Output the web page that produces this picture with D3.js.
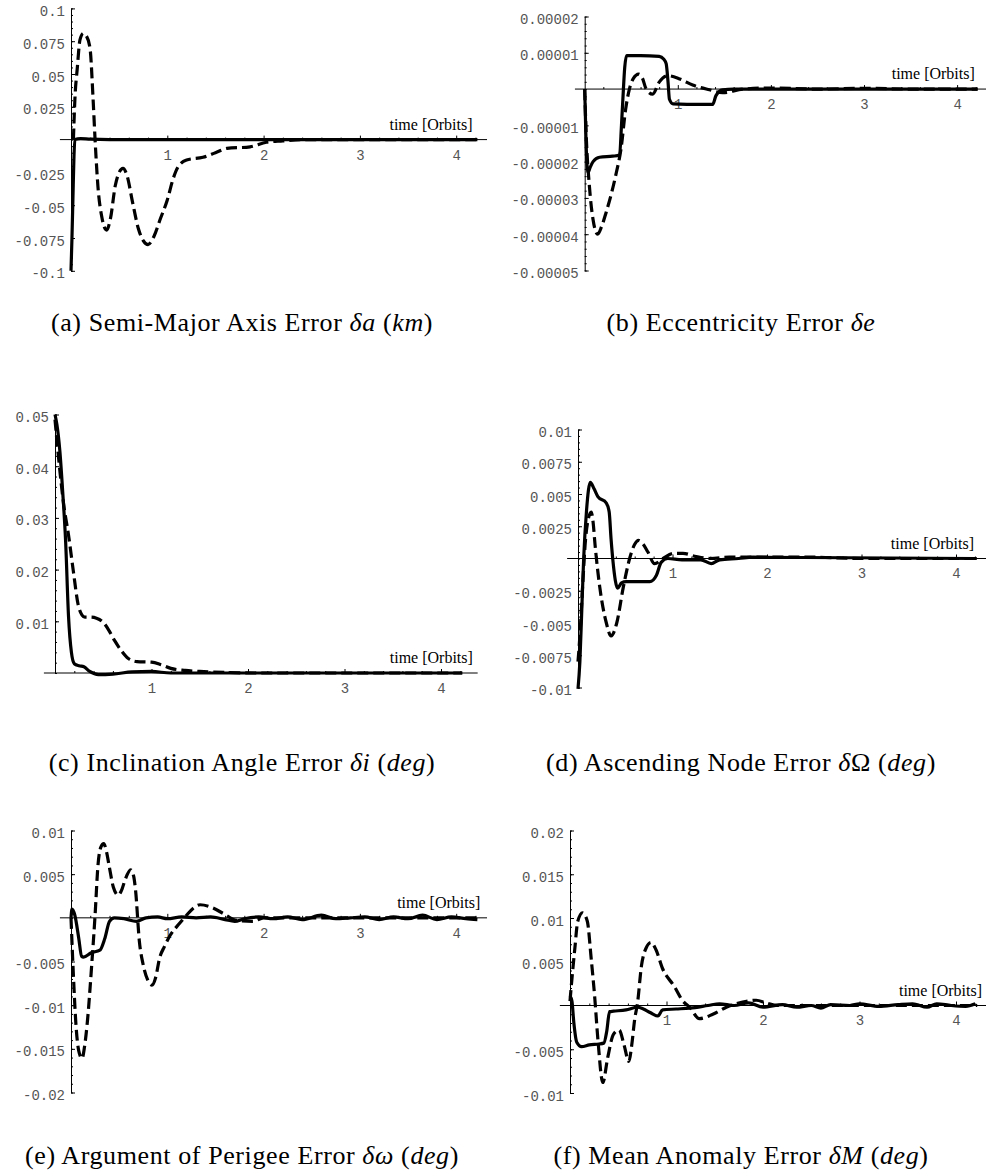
<!DOCTYPE html>
<html>
<head>
<meta charset="utf-8">
<script src="https://cdn.jsdelivr.net/npm/d3@7"></script>
<style>
  body { margin: 0; background: #fff; }
  .tick text { font-family: "Liberation Mono", "DejaVu Sans Mono", monospace; font-size: 14px; fill: #555; }
</style>
</head>
<body>
<svg id="chart" width="986" height="1176"></svg>
<script>

// x tick labels (orbits)
var xTickValues = [1, 2, 3, 4];

// y tick values per panel (0 is not labelled)
var aTicks = [0.1, 0.075, 0.05, 0.025, -0.025, -0.05, -0.075, -0.1];
var bTicks = [0.00002, 0.00001, -0.00001, -0.00002, -0.00003, -0.00004, -0.00005];
var cTicks = [0.05, 0.04, 0.03, 0.02, 0.01];
var dTicks = [0.01, 0.0075, 0.005, 0.0025, -0.0025, -0.005, -0.0075, -0.01];
var eTicks = [0.01, 0.005, -0.005, -0.01, -0.015, -0.02];
var fTicks = [0.02, 0.015, 0.01, 0.005, -0.005, -0.01];

var aLabels = ['0.1', '0.075', '0.05', '0.025', '-0.025', '-0.05', '-0.075', '-0.1'];
var bLabels = ['0.00002', '0.00001', '-0.00001', '-0.00002', '-0.00003', '-0.00004', '-0.00005'];
var cLabels = ['0.05', '0.04', '0.03', '0.02', '0.01'];
var dLabels = ['0.01', '0.0075', '0.005', '0.0025', '-0.0025', '-0.005', '-0.0075', '-0.01'];
var eLabels = ['0.01', '0.005', '-0.005', '-0.01', '-0.015', '-0.02'];
var fLabels = ['0.02', '0.015', '0.01', '0.005', '-0.005', '-0.01'];

// series: [time in orbits, error]
var aSolid = [[0,-0.1],[0.01,-0.075],[0.02,-0.045],[0.03,-0.015],[0.04,0],[0.1,0.0008],[0.2,0.0003],[0.4,0],[4.22,0]];
var aDashed = [[0.025,0],[0.04,0.03],[0.066,0.055],[0.093,0.076],[0.128,0.081],[0.16,0.079],[0.197,0.07],[0.23,0.03],[0.25,0],
  [0.28,-0.036],[0.32,-0.059],[0.37,-0.069],[0.41,-0.06],[0.46,-0.035],[0.5,-0.025],[0.54,-0.022],[0.58,-0.027],
  [0.64,-0.048],[0.7,-0.068],[0.75,-0.077],[0.8,-0.08],[0.86,-0.074],[0.93,-0.06],[1.0,-0.046],[1.06,-0.03],
  [1.11,-0.021],[1.2,-0.0155],[1.37,-0.0135],[1.5,-0.01],[1.62,-0.0067],[1.86,-0.0055],[2.03,-0.002],[2.2,-0.001],[2.4,0],[4.22,0]];

var bSolid = [[0,0],[0.015,-1.5e-5],[0.035,-2.3e-5],[0.06,-2.15e-5],[0.09,-2.0e-5],[0.16,-1.88e-5],[0.3,-1.85e-5],[0.375,-1.82e-5],
  [0.395,-1.0e-5],[0.41,-0.28e-5],[0.43,0.6e-5],[0.45,0.92e-5],[0.6,0.92e-5],[0.8,0.9e-5],[0.85,0.82e-5],[0.875,0.7e-5],
  [0.895,0.2e-5],[0.91,-0.28e-5],[0.95,-0.41e-5],[1.1,-0.42e-5],[1.375,-0.42e-5],[1.41,-0.18e-5],[1.48,-0.02e-5],[1.6,0],[4.22,0]];
var bDashed = [[0,0],[0.015,-1.2e-5],[0.05,-2.66e-5],[0.09,-3.6e-5],[0.14,-4.0e-5],[0.18,-3.8e-5],[0.23,-3.4e-5],[0.34,-2.3e-5],
  [0.39,-1.65e-5],[0.44,-0.55e-5],[0.48,0],[0.52,0.28e-5],[0.58,0.41e-5],[0.62,0.3e-5],[0.66,0],[0.73,-0.14e-5],[0.8,0.19e-5],
  [0.89,0.37e-5],[1.02,0.28e-5],[1.16,0.11e-5],[1.34,-0.02e-5],[1.48,-0.1e-5],[1.7,0],[2.0,0.03e-5],[2.5,0],[3,0.02e-5],[3.5,0],[4.22,0]];

var cSolid = [[0,0.05],[0.02,0.048],[0.05,0.043],[0.08,0.035],[0.11,0.0255],[0.14,0.011],[0.17,0.004],[0.2,0.0018],[0.25,0.0014],
  [0.3,0.0012],[0.36,0.0003],[0.45,-0.0003],[0.6,-0.0002],[0.8,0.0002],[1.0,0.0003],[1.2,0],[4.22,0]];
var cDashed = [[0,0.049],[0.035,0.042],[0.09,0.0326],[0.14,0.0267],[0.19,0.0197],[0.24,0.0132],[0.28,0.0112],[0.31,0.0108],
  [0.37,0.0108],[0.43,0.0106],[0.5,0.0098],[0.56,0.0082],[0.62,0.0062],[0.68,0.0045],[0.76,0.0028],[0.85,0.0022],[1.0,0.0021],
  [1.1,0.0016],[1.2,0.0009],[1.35,0.0005],[1.5,0.0003],[1.8,0.0001],[2.1,0],[4.22,0]];

var dSolid = [[0,-0.0101],[0.02,-0.008],[0.04,-0.004],[0.06,0],[0.09,0.0037],[0.13,0.0059],[0.17,0.0054],[0.21,0.0048],[0.3,0.0043],
  [0.33,0.0036],[0.35,0.0015],[0.37,-0.0002],[0.42,-0.0023],[0.46,-0.0019],[0.51,-0.0018],[0.76,-0.0018],[0.83,-0.0013],
  [0.88,-0.0003],[0.95,0],[1.1,-0.0001],[1.3,-0.0001],[1.41,-0.0004],[1.5,-0.0001],[1.7,0],[1.85,0.0001],[4.22,0]];
var dDashed = [[0,-0.008],[0.02,-0.006],[0.05,-0.002],[0.08,0.0015],[0.11,0.0031],[0.14,0.0036],[0.16,0.0028],[0.18,0.0011],
  [0.23,-0.0022],[0.3,-0.005],[0.35,-0.006],[0.41,-0.005],[0.48,-0.0022],[0.55,0.0001],[0.6,0.0011],[0.64,0.0014],[0.69,0.0011],
  [0.74,0.0005],[0.81,-0.0004],[0.9,0],[1.01,0.0004],[1.11,0.0004],[1.25,0.00015],[1.4,0],[1.6,0.0001],[2.0,0.0001],[2.5,0.0001],[3,0],[4.22,0]];

var eSolid = [[0,0],[0.01,0.001],[0.04,0.0003],[0.08,-0.0023],[0.11,-0.0044],[0.13,-0.0045],[0.21,-0.004],[0.3,-0.0037],
  [0.35,-0.0024],[0.4,-0.0004],[0.45,0],[0.55,-0.0001],[0.68,-0.0004],[0.78,0],[0.9,0.0001],[1.0,-0.0001],[1.15,0.0001],
  [1.3,0],[1.45,0.0001],[1.6,-0.0002],[1.7,-0.0004],[1.8,-0.0001],[1.95,0.0001],[2.1,-0.0001],[2.25,0.0001],[2.4,-0.0002],
  [2.6,0.0003],[2.75,-0.0001],[2.9,0],[3.05,0.0001],[3.2,-0.0002],[3.35,0.0001],[3.5,-0.0001],[3.65,0.0003],[3.8,-0.0002],
  [3.95,0.0001],[4.1,-0.0001],[4.22,-0.0002]];
var eDashed = [[0,0],[0.025,-0.0066],[0.05,-0.012],[0.08,-0.0152],[0.115,-0.0161],[0.14,-0.0148],[0.17,-0.0119],[0.215,-0.0054],
  [0.25,0.0003],[0.28,0.006],[0.31,0.0081],[0.34,0.0085],[0.37,0.0075],[0.4,0.0057],[0.44,0.0035],[0.49,0.0026],[0.53,0.0033],
  [0.56,0.0043],[0.62,0.0055],[0.65,0.0048],[0.67,0.0032],[0.71,-0.0027],[0.75,-0.0054],[0.8,-0.0072],[0.84,-0.0077],
  [0.88,-0.0068],[0.92,-0.0046],[0.97,-0.0033],[1.03,-0.002],[1.13,-0.0006],[1.2,0.0003],[1.27,0.0011],[1.34,0.0015],
  [1.48,0.0011],[1.58,0.0005],[1.72,-0.0003],[1.89,-0.0004],[2.0,0],[2.2,0],[4.22,0]];

var fSolid = [[0,0.0011],[0.02,0.0005],[0.04,-0.002],[0.07,-0.0042],[0.12,-0.0047],[0.2,-0.0045],[0.3,-0.0044],[0.35,-0.0043],
  [0.38,-0.003],[0.41,-0.0007],[0.45,-0.00065],[0.58,-0.0005],[0.7,-0.0002],[0.76,-0.0004],[0.83,-0.0008],[0.91,-0.0012],
  [0.96,-0.0005],[1.1,-0.0004],[1.24,-0.0003],[1.43,0],[1.55,0.0002],[1.7,0],[1.85,0.0003],[2.0,-0.0002],[2.2,0.0001],
  [2.35,-0.0002],[2.5,0],[2.6,-0.0003],[2.7,0.0001],[2.9,0],[3.0,0.0002],[3.2,-0.0001],[3.4,0.0001],[3.55,0.0002],
  [3.7,-0.0002],[3.8,0.0002],[3.95,0],[4.1,-0.0001],[4.2,0.0002]];
var fDashed = [[0,0.0005],[0.01,0.0018],[0.05,0.0065],[0.08,0.0096],[0.13,0.0106],[0.18,0.0096],[0.22,0.0053],[0.255,0.0011],
  [0.29,-0.004],[0.34,-0.0088],[0.39,-0.006],[0.45,-0.0033],[0.51,-0.0028],[0.56,-0.0045],[0.61,-0.0064],[0.64,-0.0045],
  [0.67,-0.0016],[0.7,0.0003],[0.74,0.0045],[0.79,0.0066],[0.84,0.0072],[0.89,0.0064],[0.96,0.0042],[1.08,0.0022],
  [1.17,0.0005],[1.24,-0.0002],[1.34,-0.0015],[1.48,-0.001],[1.62,-0.0002],[1.79,0.0004],[1.93,0.0006],[2.03,0.0003],[2.15,0],[4.22,0]];

// captions: pieces of [text, italic?]
var aCaption = [['(a) Semi-Major Axis Error ', false], ['δa', true], [' (', false], ['km', true], [')', false]];
var bCaption = [['(b) Eccentricity Error ', false], ['δe', true]];
var cCaption = [['(c) Inclination Angle Error ', false], ['δi', true], [' (', false], ['deg', true], [')', false]];
var dCaption = [['(d) Ascending Node Error ', false], ['δ', true], ['Ω (', false], ['deg', true], [')', false]];
var eCaption = [['(e) Argument of Perigee Error ', false], ['δω', true], [' (', false], ['deg', true], [')', false]];
var fCaption = [['(f) Mean Anomaly Error ', false], ['δM', true], [' (', false], ['deg', true], [')', false]];

// layout of the six panels (pixels)
var panels = [
  { solid: aSolid, dashed: aDashed, ticks: aTicks, labels: aLabels, caption: aCaption,
    xRange: [71, 456.2], yDomain: [-0.1, 0.1], yRange: [270.8, 8.4], axisX: [-0.115, 4.32], labelT: 4.17, capX: 242, capY: 331 },
  { solid: bSolid, dashed: bDashed, ticks: bTicks, labels: bLabels, caption: bCaption,
    xRange: [584.7, 957.1], yDomain: [-0.00005, 0.00002], yRange: [270.5, 16.5], axisX: [-0.105, 4.4], labelT: 4.19, capX: 741, capY: 331 },
  { solid: cSolid, dashed: cDashed, ticks: cTicks, labels: cLabels, caption: cCaption,
    xRange: [55, 441], yDomain: [0, 0.05], yRange: [673, 414.5], axisX: [-0.115, 4.38], labelT: 4.33, capX: 242, capY: 771 },
  { solid: dSolid, dashed: dDashed, ticks: dTicks, labels: dLabels, caption: dCaption,
    xRange: [578, 956], yDomain: [-0.01, 0.01], yRange: [687.5, 429.5], axisX: [-0.115, 4.4], labelT: 4.19, capX: 741, capY: 771 },
  { solid: eSolid, dashed: eDashed, ticks: eTicks, labels: eLabels, caption: eCaption,
    xRange: [71, 456.2], yDomain: [-0.02, 0.01], yRange: [1092.5, 830.5], axisX: [-0.115, 4.32], labelT: 4.25, capX: 242, capY: 1164 },
  { solid: fSolid, dashed: fDashed, ticks: fTicks, labels: fLabels, caption: fCaption,
    xRange: [570, 956], yDomain: [-0.01, 0.02], yRange: [1093, 830.5], axisX: [-0.105, 4.4], labelT: 4.27, capX: 741, capY: 1164 }
];

var svg = d3.select('#chart');

function drawPanel(p){
  var x = d3.scaleLinear().domain([0, 4]).range(p.xRange);
  var y = d3.scaleLinear().domain(p.yDomain).range(p.yRange);
  var g = svg.append('g');
  var y0 = y(0);

  // x axis line through zero
  g.append('line')
    .attr('x1', x(p.axisX[0])).attr('x2', x(p.axisX[1]))
    .attr('y1', y0).attr('y2', y0)
    .attr('stroke', '#000').attr('stroke-width', 1);

  // x ticks (major + minor), pointing up
  var minorX = d3.range(1, 22).map(function(i){ return i * 0.2; }).filter(function(v){ return Math.abs(v - Math.round(v)) > 1e-6; });
  g.append('g').attr('transform', 'translate(0,' + y0 + ')')
    .call(d3.axisBottom(x).tickValues(minorX).tickSize(-2).tickFormat(''))
    .call(function(s){ s.select('.domain').remove(); });
  g.append('g').attr('transform', 'translate(0,' + y0 + ')')
    .call(d3.axisBottom(x).tickValues(xTickValues).tickSize(-4).tickPadding(10).tickFormat(d3.format('d')))
    .call(function(s){ s.select('.domain').remove(); });

  // y axis with minor ticks pointing right
  var step = Math.abs(p.ticks[0] - p.ticks[1]);
  var minorY = [];
  for (var v = p.yDomain[0]; v <= p.yDomain[1] + step * 1e-6; v += step / 5) minorY.push(v);
  g.append('g').attr('transform', 'translate(' + x(0) + ',0)')
    .call(d3.axisLeft(y).tickValues(minorY).tickSize(-2).tickSizeOuter(0).tickFormat(''));
  g.append('g').attr('transform', 'translate(' + x(0) + ',0)')
    .call(d3.axisLeft(y).tickValues(p.ticks).tickSize(-4).tickPadding(6)
      .tickFormat(function(d, i){ return p.labels[i]; }))
    .call(function(s){
      s.select('.domain').remove();
      s.selectAll('text').attr('dy', '0.5em');
    });

  // axis label
  g.append('text')
    .attr('x', x(p.labelT)).attr('y', y0 - 10)
    .attr('text-anchor', 'end')
    .style('font-family', '"Liberation Serif", "Times New Roman", serif')
    .style('font-size', '16px')
    .text('time [Orbits]');

  var line = d3.line()
    .x(function(d){ return x(d[0]); })
    .y(function(d){ return y(d[1]); })
    .curve(d3.curveMonotoneX);

  g.append('path').datum(p.dashed)
    .attr('d', line)
    .attr('fill', 'none').attr('stroke', '#000')
    .attr('stroke-width', 3.2).attr('stroke-dasharray', '11,5');

  g.append('path').datum(p.solid)
    .attr('d', line)
    .attr('fill', 'none').attr('stroke', '#000')
    .attr('stroke-width', 3.2).attr('stroke-linejoin', 'round');

  // caption
  var cap = svg.append('text')
    .attr('x', p.capX).attr('y', p.capY)
    .attr('text-anchor', 'middle')
    .style('font-family', '"Liberation Serif", "Times New Roman", serif')
    .style('font-size', '26px')
    .style('letter-spacing', '0.6px');
  p.caption.forEach(function(piece){
    cap.append('tspan').text(piece[0]).style('font-style', piece[1] ? 'italic' : 'normal');
  });
}

panels.forEach(drawPanel);

</script>
</body>
</html>
